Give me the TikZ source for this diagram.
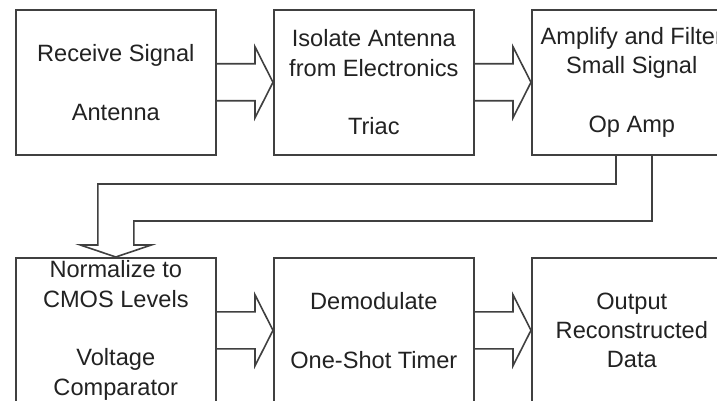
\documentclass[tikz,border=0pt]{standalone}
\usepackage{fontspec}
\setmainfont{Liberation Sans}
\usepackage{tikz}
\usetikzlibrary{calc}
\definecolor{linegray}{RGB}{64,64,64}
\definecolor{textgray}{RGB}{34,34,34}
\tikzset{stage/.style={draw=linegray,line width=0.8pt,anchor=north west,
                    minimum width=100pt,minimum height=72.5pt,   % one block
                    align=center,text=textgray,inner sep=0pt,
                    font=\fontsize{11.8}{14.7}\selectfont}}
% hollow arrow from one block to the next one
\newcommand{\fatarrow}[2]{\draw[linegray,line width=0.8pt,line join=miter]
                    ($(#1.east)+(0,-18.5)$) -- ($(#2.west)+(-18,-18.5)$) -- ++(0,-17)
                    -- (#2.west) -- ++(-18,35.5) -- ++(0,-17) -- ($(#1.east)+(0,18.5)$);}

\begin{document}
\begin{tikzpicture}[x=0.5pt,y=-0.5pt]
                \clip (0,0) rectangle (717,401);
                \fill[white] (0,0) rectangle (717,401);
                    \node[stage] (recv) at (15,9) {Receive Signal\\[14.7pt]Antenna};
                    \node[stage] (isol) at (273,9) {Isolate Antenna\\from Electronics\\[14.7pt]Triac};
                    \node[stage] (amp) at (531,9) {Amplify and Filter\\Small Signal\\[14.7pt]Op Amp};
                    \node[stage] (norm) at (15,257) {Normalize to\\CMOS Levels\\[14.7pt]Voltage\\Comparator};
                    \node[stage] (demod) at (273,257) {Demodulate\\[14.7pt]One-Shot Timer};
                    \node[stage] (outp) at (531,257) {Output\\Reconstructed\\Data};
                \fatarrow{recv}{isol}
                \fatarrow{isol}{amp}
                \fatarrow{norm}{demod}
                \fatarrow{demod}{outp}
                \draw[linegray,line width=0.8pt,line join=miter] ($(amp.south west)+(85,0)$) |- ($(norm.north)+(-18,-73)$)
                    -- ++(0,61) -- ++(-17.5,0) -- (norm.north) -- ++(35.5,-12) -- ++(-17.5,0)
                    -- ++(0,-24) -| ($(amp.south west)+(121,0)$);
                \end{tikzpicture}
\end{document}
